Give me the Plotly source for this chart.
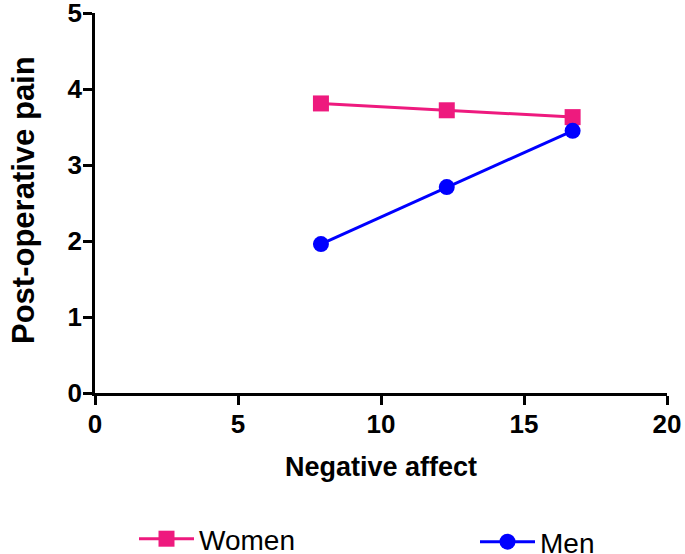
import plotly.graph_objects as go

neg_affect = [7.9, 12.3, 16.7]
women_pain = [3.81, 3.72, 3.63]
men_pain = [1.96, 2.71, 3.45]
x_ticks = [0, 5, 10, 15, 20]
y_ticks = [0, 1, 2, 3, 4, 5]

PINK = "#EE1A7E"
BLUE = "#0000FF"
FONT = "Liberation Sans, Arial, sans-serif"
W, H = 685, 554
L, R, T, B = 95, 18, 13, 161
PW, PH = W - L - R, H - T - B

fig = go.Figure()
fig.add_trace(go.Scatter(x=neg_affect, y=women_pain, name="Women", mode="lines+markers",
                         line=dict(color=PINK, width=3), showlegend=True,
                         marker=dict(symbol="square", size=16, color=PINK), legend="legend"))
fig.add_trace(go.Scatter(x=neg_affect, y=men_pain, name="Men", mode="lines+markers",
                         line=dict(color=BLUE, width=3), showlegend=True,
                         marker=dict(symbol="circle", size=16, color=BLUE), legend="legend2"))

axis_common = dict(showline=True, linecolor="black", linewidth=2.5, ticks="outside",
                   ticklen=9, tickwidth=2.5, tickcolor="black", showgrid=False, zeroline=False,
                   automargin=False, ticklabeloverflow="allow",
                   tickfont=dict(family=FONT, size=26, color="black", weight="bold"))

legend_font = dict(family=FONT, size=28, color="black")

fig.update_layout(
    width=W, height=H,
    margin=dict(l=L, r=R, t=T, b=B, autoexpand=False),
    plot_bgcolor="white", paper_bgcolor="white",
    showlegend=True,
    xaxis=dict(range=[0, 20], tickvals=x_ticks, ticklabelstandoff=-3, **axis_common),
    yaxis=dict(range=[0, 5], tickvals=y_ticks, ticklabelstandoff=-4, **axis_common),
    legend=dict(x=(134 - L) / PW, y=(H - B - 539) / PH, xref="paper", yref="paper",
                xanchor="left", yanchor="middle", itemwidth=55,
                font=legend_font, bgcolor="rgba(0,0,0,0)"),
    legend2=dict(x=(475 - L) / PW, y=(H - B - 542) / PH, xref="paper", yref="paper",
                 xanchor="left", yanchor="middle", itemwidth=55,
                 font=legend_font, bgcolor="rgba(0,0,0,0)"),
    annotations=[
        dict(text="<b>Negative affect</b>", xref="paper", yref="paper",
             x=0.5, y=(H - B - 467) / PH, xanchor="center", yanchor="middle", showarrow=False,
             font=dict(family=FONT, size=27, color="black")),
        dict(text="<b>Post-operative pain</b>", xref="paper", yref="paper",
             x=(23 - L) / PW, y=(H - B - 200) / PH, xanchor="center", yanchor="middle",
             textangle=-90, showarrow=False,
             font=dict(family=FONT, size=31, color="black")),
    ],
)

fig.write_html("out.html", config={"displayModeBar": False},
               post_script="document.body.style.margin='0';")
